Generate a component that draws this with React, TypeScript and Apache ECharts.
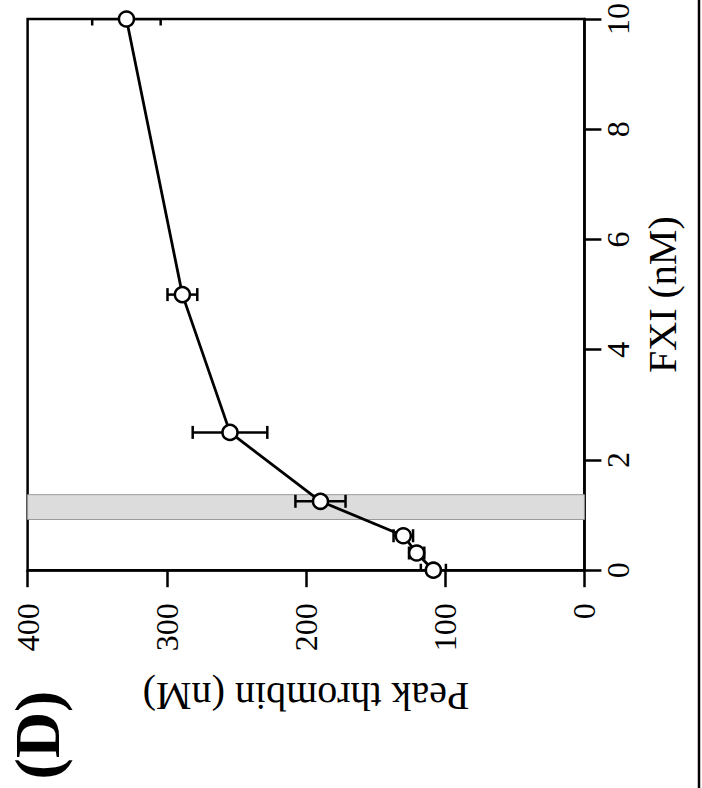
import React, { useEffect, useRef } from "react";
import * as echarts from "echarts";

const fxiValues = [0, 0.3125, 0.625, 1.25, 2.5, 5, 10];
const peakThrombin = [108.5, 120.5, 130.1, 189.6, 254.6, 288.8, 329];
const thrombinError = [9, 5.5, 7, 18, 26.8, 10.7, 24.6];
const normalRange = [0.92, 1.37];
const xTitle = "FXI (nM)";
const yTitle = "Peak thrombin (nM)";
const panelLabel = "(D)";

const FONT = "Liberation Serif";

export default function App() {
  const ref = useRef<HTMLDivElement>(null);
  useEffect(() => {
    document.body.style.margin = "0";
    const chart = echarts.init(ref.current!, null, { renderer: "svg" });
    const lineData = fxiValues.map((f, i) => [peakThrombin[i], f]);
    const errData = fxiValues.map((f, i) => [peakThrombin[i], f, thrombinError[i]]);
    chart.setOption({
      animation: false,
      backgroundColor: "#fff",
      textStyle: { fontFamily: FONT },
      grid: {
        left: 27.6,
        top: 12.2,
        right: 117.6,
        bottom: 217.8,
        show: true,
        borderColor: "#000",
        borderWidth: 2.5,
      },
      xAxis: {
        type: "value",
        min: 0,
        max: 400,
        interval: 100,
        inverse: true,
        position: "bottom",
        name: yTitle,
        nameLocation: "middle",
        nameRotate: 180,
        nameGap: 106,
        nameTextStyle: { fontFamily: FONT, fontSize: 40, fontWeight: "normal", color: "#000" },
        axisLine: { show: true, lineStyle: { color: "#000", width: 2.5 } },
        axisTick: { show: true, inside: false, length: 17, lineStyle: { color: "#000", width: 2.5 } },
        axisLabel: { rotate: 90, margin: 33, fontFamily: FONT, fontSize: 32, color: "#000" },
        splitLine: { show: false },
      },
      yAxis: {
        type: "value",
        min: 0,
        max: 10,
        interval: 2,
        position: "right",
        name: xTitle,
        nameLocation: "middle",
        nameRotate: 90,
        nameGap: 58,
        nameTextStyle: { fontFamily: FONT, fontSize: 40, fontWeight: "normal", color: "#000" },
        axisLine: { show: true, lineStyle: { color: "#000", width: 2.5 } },
        axisTick: { show: true, inside: false, length: 17, lineStyle: { color: "#000", width: 2.5 } },
        axisLabel: { rotate: 90, margin: 18, fontFamily: FONT, fontSize: 32, color: "#000" },
        splitLine: { show: false },
      },
      series: [
        {
          type: "custom",
          clip: true,
          z: 2,
          data: errData,
          encode: { x: 0, y: 1 },
          renderItem: (params: any, api: any) => {
            const x = api.value(0);
            const y = api.value(1);
            const e = api.value(2);
            const p1 = api.coord([x - e, y]);
            const p2 = api.coord([x + e, y]);
            const cs = params.coordSys;
            const h = 6.5;
            const top = Math.max(p1[1] - h, cs.y);
            const bot = Math.min(p1[1] + h, cs.y + cs.height + h);
            const style = { stroke: "#000", lineWidth: 2.5 };
            return {
              type: "group",
              children: [
                { type: "line", shape: { x1: p1[0], y1: p1[1], x2: p2[0], y2: p2[1] }, style },
                { type: "line", shape: { x1: p1[0], y1: top, x2: p1[0], y2: bot }, style },
                { type: "line", shape: { x1: p2[0], y1: top, x2: p2[0], y2: bot }, style },
              ],
            };
          },
          markArea: {
            silent: true,
            z: 1,
            itemStyle: { color: "#dcdcdc", borderColor: "#9a9a9a", borderWidth: 1 },
            data: [[{ yAxis: normalRange[0] }, { yAxis: normalRange[1] }]],
          },
        },
        {
          type: "line",
          z: 3,
          data: lineData,
          symbol: "circle",
          symbolSize: 15,
          itemStyle: { color: "#fff", borderColor: "#000", borderWidth: 2.5 },
          lineStyle: { color: "#000", width: 2.8 },
        },
      ],
      graphic: [
        {
          type: "text",
          x: 37,
          y: 735,
          rotation: Math.PI / 2,
          style: {
            text: panelLabel,
            font: `bold 64px ${FONT}`,
            fill: "#000",
            textAlign: "center",
            textVerticalAlign: "middle",
          },
        },
        {
          type: "line",
          shape: { x1: 699, y1: 0, x2: 699, y2: 788 },
          style: { stroke: "#000", lineWidth: 2.5 },
        },
      ],
    });
    return () => chart.dispose();
  }, []);
  return <div ref={ref} style={{ position: "absolute", left: 0, top: 0, width: 702, height: 788 }} />;
}
